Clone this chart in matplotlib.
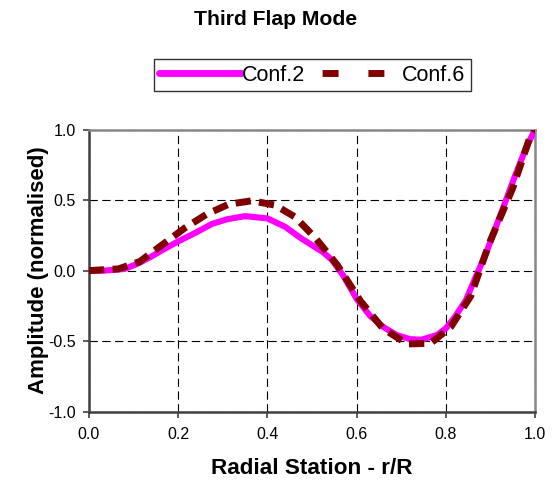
import matplotlib
matplotlib.use("Agg")
import matplotlib.pyplot as plt
from matplotlib.lines import Line2D

# Normalised third flap mode shapes along the blade (r/R)
conf2_r = [0.000, 0.035, 0.080, 0.110, 0.140, 0.170, 0.200, 0.240, 0.275, 0.310,
           0.350, 0.400, 0.440, 0.475, 0.500, 0.525, 0.545, 0.570, 0.600, 0.630,
           0.660, 0.690, 0.720, 0.745, 0.780, 0.800, 0.820, 0.845, 0.865, 0.890,
           0.910, 0.935, 0.955, 0.980, 1.000]
conf2_amp = [0.000, 0.000, 0.012, 0.050, 0.100, 0.155, 0.207, 0.270, 0.330, 0.364,
             0.386, 0.370, 0.310, 0.230, 0.180, 0.130, 0.075, -0.035, -0.200, -0.320,
             -0.400, -0.457, -0.486, -0.490, -0.457, -0.410, -0.330, -0.210, -0.060, 0.120,
             0.290, 0.500, 0.670, 0.870, 1.000]

conf6_r = [0.000, 0.066, 0.114, 0.163, 0.214, 0.264, 0.313, 0.365, 0.417, 0.462,
           0.508, 0.557, 0.609, 0.659, 0.714, 0.766, 0.811, 0.856, 0.897, 0.950,
           0.987, 1.000]
conf6_amp = [0.000, 0.012, 0.064, 0.180, 0.300, 0.400, 0.470, 0.495, 0.464, 0.380,
             0.230, 0.038, -0.217, -0.410, -0.520, -0.515, -0.400, -0.180, 0.190, 0.585,
             0.930, 1.000]

series_names = ["Conf.2", "Conf.6"]
x_ticks = [0.0, 0.2, 0.4, 0.6, 0.8, 1.0]
y_ticks = [-1.0, -0.5, 0.0, 0.5, 1.0]

plt.rcParams["font.family"] = ["Liberation Sans", "DejaVu Sans"]

MAGENTA = "#FF00FF"
DARKRED = "#800000"

fig = plt.figure(figsize=(5.52, 4.80), dpi=100)
ax = fig.add_axes([0.1612, 0.1423, 0.8080, 0.5879])

ax.plot(conf2_r, conf2_amp, color=MAGENTA, lw=4.4, solid_capstyle="round",
        solid_joinstyle="round", zorder=3)
ax.plot(conf6_r, conf6_amp, color=DARKRED, lw=5.0, linestyle=(0, (2.2, 1.2)),
        dash_capstyle="butt", dash_joinstyle="round", zorder=4)

ax.set_xlim(0, 1)
ax.set_ylim(-1, 1)
ax.set_xticks(x_ticks)
ax.set_yticks(y_ticks)
ax.set_xticklabels([f"{v:.1f}" for v in x_ticks])
ax.set_yticklabels([f"{v:.1f}" for v in y_ticks])
ax.tick_params(axis="both", direction="out", length=4.3, width=1.2,
               color="#404040", labelsize=11.5)
ax.tick_params(axis="x", pad=7)
ax.tick_params(axis="y", pad=5)

ax.grid(True, color="black", linestyle=(0, (7.5, 4)), linewidth=0.8)
ax.set_axisbelow(True)

for side in ("left", "bottom"):
    ax.spines[side].set_color("#404040")
    ax.spines[side].set_linewidth(1.8)
for side in ("top", "right"):
    ax.spines[side].set_color("#888888")
    ax.spines[side].set_linewidth(1.8)

ax.set_xlabel("Radial Station - r/R", fontsize=16.2, fontweight="bold")
ax.xaxis.label.set_verticalalignment("center")
ax.xaxis.set_label_coords(0.5, -0.203)
ax.set_ylabel("Amplitude (normalised)", fontsize=16, fontweight="bold")
ax.yaxis.label.set_verticalalignment("center")
ax.yaxis.set_label_coords(-0.114, 0.5)

fig.text(0.500, 0.960, "Third Flap Mode", ha="center", va="center",
         fontsize=15.2, fontweight="bold")

handles = [
    Line2D([], [], color=MAGENTA, lw=5.0, solid_capstyle="round"),
    Line2D([], [], color=DARKRED, lw=5.0, linestyle=(6.3, (2.3, 4.3)),
           dash_capstyle="butt"),
]
leg = fig.legend(handles, series_names, loc="center", bbox_to_anchor=(0.566, 0.843),
                 ncol=2, fontsize=15.5, frameon=True, fancybox=False,
                 handlelength=3.77, handletextpad=0.05, columnspacing=0.7,
                 borderpad=0.25, borderaxespad=0)
leg.get_frame().set_edgecolor("black")
leg.get_frame().set_linewidth(1.0)

fig.savefig("out.png", dpi=100)
